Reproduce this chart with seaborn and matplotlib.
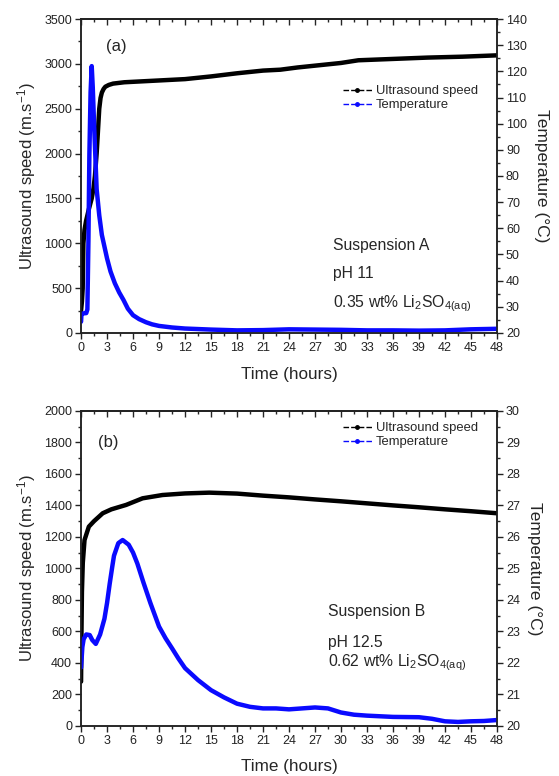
import numpy as np
import pandas as pd
import matplotlib
matplotlib.use('Agg')
import matplotlib.pyplot as plt
from matplotlib.lines import Line2D
from matplotlib.ticker import MultipleLocator
import seaborn as sns

# Panel (a) - Suspension A
t_a_speed = [0, 0.1, 0.19, 0.27, 0.4, 0.58, 0.9, 1.23, 1.45, 1.6, 1.8, 1.95, 2.1, 2.25, 2.4, 2.6, 2.8, 3.2, 3.7,
             5, 7, 9, 12, 15, 18, 21, 23, 25, 27.5, 30, 32, 36, 40, 44, 48]
speed_a = [250, 350, 500, 1000, 1150, 1250, 1380, 1500, 1620, 1750, 2000, 2250, 2500, 2620, 2680, 2720, 2745,
           2765, 2780, 2795, 2805, 2815, 2830, 2860, 2895, 2925, 2935, 2960, 2985, 3010, 3040, 3055, 3070,
           3080, 3095]
t_a_temp = [0, 0.05, 0.3, 0.6, 0.73, 0.85, 0.96, 1.1, 1.23, 1.35, 1.5, 1.8, 2.1, 2.4, 3.0, 3.4, 3.9, 4.4,
            4.9, 5.4, 6.0, 6.7, 7.5, 8.2, 9, 10.5, 12, 15, 18, 21, 24, 27, 30, 33, 36, 39, 42, 45, 48]
temp_a = [24.3, 27.3, 27.5, 27.6, 29, 55, 88, 112, 122, 114, 100, 75, 65, 57.5, 48.5, 43.5, 39, 35.5,
          32.6, 29.3, 26.8, 25.3, 24.1, 23.3, 22.7, 22.1, 21.7, 21.3, 21.0, 21.1, 21.4, 21.3, 21.2, 21.0,
          21.0, 20.9, 21.0, 21.4, 21.6]

# Panel (b) - Suspension B
t_b_speed = [0, 0.05, 0.1, 0.2, 0.4, 0.9, 1.5, 2.5, 3.5, 5.2, 7.1, 9.4, 12, 14.8, 18, 21, 24, 27,
             30, 33, 36, 39, 42, 45, 48]
speed_b = [280, 600, 850, 1035, 1180, 1265, 1300, 1350, 1375, 1403, 1445, 1466, 1476, 1481, 1475, 1462,
           1451, 1438, 1426, 1413, 1400, 1388, 1375, 1363, 1350]
t_b_temp = [0, 0.15, 0.3, 0.6, 1.0, 1.3, 1.7, 2.2, 2.7, 3.0, 3.3, 3.6, 3.8, 4.3, 4.8, 5.5, 6.0, 6.5, 7.2,
            8, 9, 9.75, 10.5, 11.25, 12, 13.5, 15, 16.5, 18, 19.5, 21, 22.5, 24, 25.5, 27, 28.5, 30, 31.5,
            33, 36, 39, 40.5, 42, 43.5, 45, 46.5, 48]
temp_b = [21.85, 22.5, 22.75, 22.9, 22.88, 22.72, 22.6, 22.9, 23.4, 23.9, 24.5, 25.05, 25.4, 25.8, 25.9,
          25.75, 25.5, 25.15, 24.55, 23.9, 23.15, 22.78, 22.46, 22.13, 21.83, 21.45, 21.13, 20.9, 20.7,
          20.6, 20.55, 20.55, 20.52, 20.55, 20.58, 20.55, 20.42, 20.35, 20.32, 20.28, 20.27, 20.22, 20.14,
          20.12, 20.14, 20.15, 20.18]

sns.set_theme(style='ticks')
plt.rcParams['font.family'] = ['Liberation Sans', 'DejaVu Sans']
plt.rcParams['mathtext.default'] = 'regular'
plt.rcParams['axes.linewidth'] = 1.1

fig = plt.figure(figsize=(5.59, 7.76), dpi=100)

panels = [
    dict(pos=[0.145, 0.5709, 0.744, 0.4046], ts=t_a_speed, s=speed_a, tt=t_a_temp, T=temp_a,
         ylim=(0, 3500), ymaj=500, ymin=250, tlim=(20, 140), tmaj=10, tmin=5, tag='(a)', tagxy=(0.06, 0.912),
         leg_y=0.79, lines=['Suspension A', 'pH 11', '0.35 wt% Li$_2$SO$_{4(aq)}$'],
         txt_x=0.606, txt_y=[0.28, 0.188, 0.092]),
    dict(pos=[0.145, 0.0648, 0.744, 0.4056], ts=t_b_speed, s=speed_b, tt=t_b_temp, T=temp_b,
         ylim=(0, 2000), ymaj=200, ymin=100, tlim=(20, 30), tmaj=1, tmin=0.5, tag='(b)', tagxy=(0.041, 0.90),
         leg_y=0.965, lines=['Suspension B', 'pH 12.5', '0.62 wt% Li$_2$SO$_{4(aq)}$'],
         txt_x=0.594, txt_y=[0.362, 0.263, 0.2]),
]

for p in panels:
    ax = fig.add_axes(p['pos'])
    ax2 = ax.twinx()
    sns.lineplot(x=p['ts'], y=p['s'], ax=ax, color='black', lw=3.2, zorder=3)
    sns.lineplot(x=p['tt'], y=p['T'], ax=ax2, color='#0a0aff', lw=3.2)

    ax.set_xlim(0, 48)
    ax.set_ylim(*p['ylim'])
    ax2.set_ylim(*p['tlim'])
    ax.xaxis.set_major_locator(MultipleLocator(3))
    ax.xaxis.set_minor_locator(MultipleLocator(1.5))
    ax.yaxis.set_major_locator(MultipleLocator(p['ymaj']))
    ax.yaxis.set_minor_locator(MultipleLocator(p['ymin']))
    ax2.yaxis.set_major_locator(MultipleLocator(p['tmaj']))
    ax2.yaxis.set_minor_locator(MultipleLocator(p['tmin']))
    if p['tmaj'] == 1:
        ax2.set_yticklabels([f'{v:.0f}' for v in ax2.get_yticks()])

    for a in (ax, ax2):
        a.tick_params(which='major', direction='out', length=4.5, width=1, labelsize=9, pad=2, colors='#222222')
        a.tick_params(which='minor', direction='out', length=2.5, width=1)
        for sp in a.spines.values():
            sp.set_visible(True)
            sp.set_color('#222222')

    top = ax.secondary_xaxis('top')
    top.xaxis.set_major_locator(MultipleLocator(3))
    top.xaxis.set_minor_locator(MultipleLocator(1.5))
    top.tick_params(which='major', direction='in', length=4.5, width=1, labeltop=False)
    top.tick_params(which='minor', direction='in', length=2.5, width=1)

    ax.set_xlabel('Time (hours)', fontsize=12.3, labelpad=9)
    ax.set_ylabel('Ultrasound speed (m.s$^{-1}$)', fontsize=12, labelpad=4)
    ax2.set_ylabel('Temperature (°C)', fontsize=12.5, rotation=270, labelpad=16)

    ax.text(p['tagxy'][0], p['tagxy'][1], p['tag'], transform=ax.transAxes, fontsize=12, va='center')
    for s, y in zip(p['lines'], p['txt_y']):
        ax.text(p['txt_x'], y, s, transform=ax.transAxes, fontsize=11.3, va='center')

    handles = [Line2D([], [], color='black', lw=1, ls=(0, (4, 1.5)), marker='o', markersize=2.5),
               Line2D([], [], color='#0a0aff', lw=1, ls=(0, (4, 1.5)), marker='o', markersize=2.5)]
    ax.legend(handles, ['Ultrasound speed', 'Temperature'], loc='upper left',
              bbox_to_anchor=(0.63, p['leg_y']), frameon=False, fontsize=9.4,
              handlelength=2.2, handletextpad=0.3, labelspacing=0.15, borderpad=0, borderaxespad=0)

fig.savefig('out.png', dpi=100)
